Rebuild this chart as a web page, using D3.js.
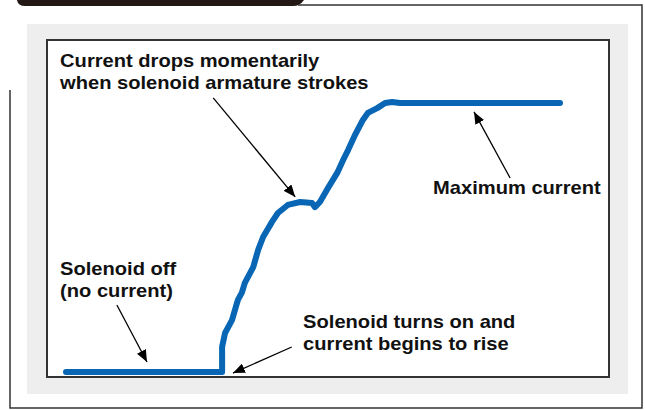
<!DOCTYPE html>
<html>
<head>
<meta charset="utf-8">
<script src="https://cdn.jsdelivr.net/npm/d3@7"></script>
<style>
  body { margin: 0; background: #fff; }
  text { font-family: "Liberation Sans", Arial, sans-serif; font-weight: bold; fill: #111; }
</style>
</head>
<body>
<div id="chart"></div>
<script>
// solenoid current trace (time 0..100, current 0..100 = max)
const timeVals = [0, 31.6, 31.6, 32.2, 33.6, 34.8, 35.6, 36.2, 37.9, 38.9, 39.9, 41.7, 42.9, 44.9,
  47.4, 49.8, 50.4, 51.4, 52.8, 54.9, 56.1, 57.1, 58.5, 60.1, 61.1, 63.0, 64.6, 66.0, 67.6, 100];
const currentVals = [0, 0, 9.3, 14.5, 19.3, 26.8, 29.5, 33.1, 39.0, 45.4, 50.2, 55.8, 59.1, 62.1,
  63.2, 62.8, 61.3, 63.2, 67.7, 74.0, 78.8, 82.5, 88.1, 93.7, 96.3, 98.1, 100, 100.4, 100, 100];

// annotation text, anchored in data units
const labelLines = [
  ["Current drops momentarily", "when solenoid armature strokes"],
  ["Maximum current"],
  ["Solenoid off", "(no current)"],
  ["Solenoid turns on and", "current begins to rise"]
];
const labelT = [-1.2, 74.3, -1.2, 48.0];
const labelC = [113.4, 66.2, 36.1, 16.4];

// arrows: from (t0,c0) to tip (t1,c1)
const arrowFrom = [[29.8, 101.9], [89.9, 72.1], [10.3, 24.9], [45.7, 9.3]];
const arrowTo = [[46.4, 65.1], [82.6, 96.7], [16.4, 3.7], [33.8, -0.4]];

const width = 645, height = 410;
const frame = { x0: 47, y0: 40, x1: 609, y1: 377 };

const x = d3.scaleLinear().domain([0, 100]).range([66, 560]);
const y = d3.scaleLinear().domain([0, 100]).range([372, 103]);

const svg = d3.select("#chart").append("svg")
    .attr("width", width)
    .attr("height", height);

// page decoration: tab at top, outer border
svg.append("path")
    .attr("d", "M17,0 L304,0 Q300,6 293,6 L25,6 Q18,6 17,0 Z")
    .attr("fill", "#231815");
svg.append("path")
    .attr("d", "M298,5 L642,5 L642,408 L10,408 L10,90")
    .attr("fill", "none")
    .attr("stroke", "#333")
    .attr("stroke-width", 1.5);

// grey panel
svg.append("rect")
    .attr("x", 27).attr("y", 24)
    .attr("width", 601).attr("height", 370)
    .attr("fill", "#eeeeee");

// plot frame
svg.append("rect")
    .attr("x", frame.x0).attr("y", frame.y0)
    .attr("width", frame.x1 - frame.x0).attr("height", frame.y1 - frame.y0)
    .attr("fill", "#fff")
    .attr("stroke", "#333")
    .attr("stroke-width", 2);

const pts = d3.range(timeVals.length).map(i => [timeVals[i], currentVals[i]]);
const line = d3.line()
    .x(d => x(d[0]))
    .y(d => y(d[1]))
    .curve(d3.curveLinear);

svg.append("path")
    .datum(pts)
    .attr("d", line)
    .attr("fill", "none")
    .attr("stroke", "#0866b4")
    .attr("stroke-width", 6)
    .attr("stroke-linecap", "round")
    .attr("stroke-linejoin", "round");

// arrows
svg.append("defs").append("marker")
    .attr("id", "head")
    .attr("viewBox", "0 0 12 10")
    .attr("refX", 12).attr("refY", 5)
    .attr("markerWidth", 12).attr("markerHeight", 10)
    .attr("markerUnits", "userSpaceOnUse")
    .attr("orient", "auto")
  .append("path")
    .attr("d", "M0,0 L12,5 L0,10 Z")
    .attr("fill", "#000");

svg.append("g")
  .selectAll("line")
  .data(d3.range(arrowFrom.length))
  .join("line")
    .attr("x1", i => x(arrowFrom[i][0]))
    .attr("y1", i => y(arrowFrom[i][1]))
    .attr("x2", i => x(arrowTo[i][0]))
    .attr("y2", i => y(arrowTo[i][1]))
    .attr("stroke", "#000")
    .attr("stroke-width", 1.3)
    .attr("marker-end", "url(#head)");

// labels (the original lettering is a bit wide, so stretch horizontally)
const stretch = 1.15;
const labels = svg.append("g")
  .selectAll("text")
  .data(d3.range(labelLines.length))
  .join("text")
    .attr("transform", i => `translate(${x(labelT[i])},${y(labelC[i])}) scale(${stretch},1)`)
    .style("font-size", "17.5px");

labels.selectAll("tspan")
  .data(i => labelLines[i])
  .join("tspan")
    .attr("x", 0)
    .attr("dy", (d, j) => j === 0 ? 0 : 22)
    .text(d => d);
</script>
</body>
</html>
